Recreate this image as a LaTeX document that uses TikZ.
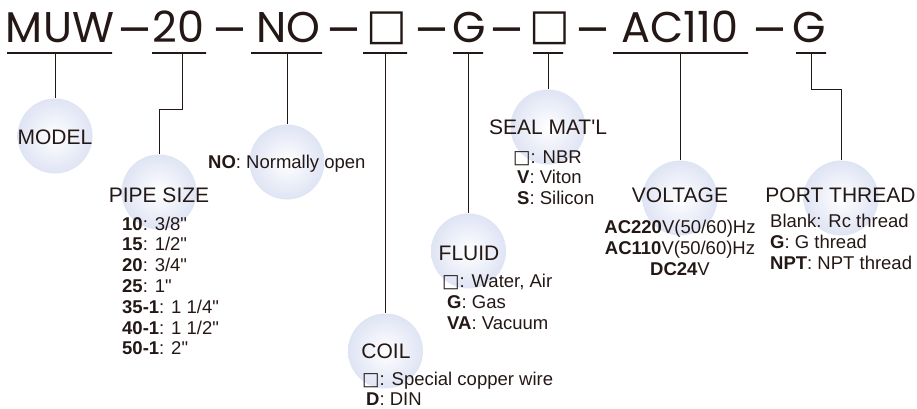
\documentclass[tikz,border=0pt]{standalone}
\usepackage{fontspec}
\setmainfont{Liberation Sans}[Ligatures=TeXOff]
\newfontfamily\titlefont{Poppins}
\newfontfamily\symfont{DejaVu Sans}
\definecolor{ink}{HTML}{231815}
\definecolor{ballc}{RGB}{223,228,244}
\newcommand{\bx}{{\symfont □}}
\tikzset{
  ttl/.style={inner sep=0pt, anchor=base, text=ink, font=\titlefont\fontsize{43}{43}\selectfont},
  tdash/.style={inner sep=0pt, anchor=base, text=ink, xscale=1.12, font=\titlefont\fontsize{46}{46}\selectfont},
  tbox/.style={inner sep=0pt, anchor=center, text=ink, font=\symfont\fontsize{43}{43}\selectfont},
  uline/.style={draw=ink, line width=1.2pt, inner sep=0pt, minimum height=0pt},
  ball/.style={circle, minimum size=75pt, inner sep=0pt, inner color=white, outer color=ballc},
  head/.style={inner sep=0pt, anchor=base, text=ink, font=\fontsize{21}{21}\selectfont},
  item/.style={inner sep=0pt, anchor=base west, text=ink, font=\fontsize{18.5}{20.8}\selectfont},
  itemc/.style={inner sep=0pt, anchor=base, text=ink, font=\fontsize{18.5}{20.8}\selectfont},
  conn/.style={draw=ink, line width=1pt},
}
\begin{document}
\begin{tikzpicture}[x=1pt,y=-1pt]
\useasboundingbox (0,0) rectangle (917,409);
% title
\node[ttl] (tMUW) at (60,43) {MUW};
\node[tdash] (d1) at (135,47) {–};
\node[ttl] (t20) at (178.5,43) {20};
\node[tdash] (d2) at (230,47) {–};
\node[ttl] (tNO) at (288.5,43) {NO};
\node[tdash] (d3) at (343.5,47) {–};
\node[tbox] (tB1) at (386.5,28) {□};
\node[tdash] (d4) at (431.5,47) {–};
\node[ttl] (tG1) at (469,43) {G};
\node[tdash] (d5) at (506.5,47) {–};
\node[tbox] (tB2) at (549.5,28) {□};
\node[tdash] (d6) at (592.5,47) {–};
\node[ttl] (tAC) at (680,43) {AC110};
\node[tdash] (d7) at (770,47) {–};
\node[ttl] (tG2) at (809,43) {G};
% underlines
\node[uline, minimum width=105pt] (u1) at (59.5,53) {};
\node[uline, minimum width=54pt] (u2) at (179,53) {};
\node[uline, minimum width=71pt] (u3) at (286.5,53) {};
\node[uline, minimum width=44pt] (u4) at (385,53) {};
\node[uline, minimum width=30pt] (u5) at (468,53) {};
\node[uline, minimum width=30pt] (u6) at (548,53) {};
\node[uline, minimum width=135pt] (u7) at (680.5,53) {};
\node[uline, minimum width=30pt] (u8) at (811,53) {};
% balls
\node[ball] (bModel) at (55,136) {};
\node[ball] (bPipe) at (159,192) {};
\node[ball] (bNO) at (287,162) {};
\node[ball] (bCoil) at (385.5,351) {};
\node[ball] (bFluid) at (468.5,251) {};
\node[ball] (bSeal) at (548,127) {};
\node[ball] (bVolt) at (680,198) {};
\node[ball] (bPort) at (841,198) {};
% connectors
\coordinate (k2) at (182,53);
\coordinate (k8) at (811,53);
\draw[conn] (bModel.north |- u1.center) -- (bModel.north);
\draw[conn] (k2) -- ++(0,57) -| (bPipe.north);
\draw[conn] (bNO.north |- u3.center) -- (bNO.north);
\draw[conn] (bCoil.north |- u4.center) -- (bCoil.north);
\draw[conn] (bFluid.north |- u5.center) -- (bFluid.north);
\draw[conn] (bSeal.north |- u6.center) -- (bSeal.north);
\draw[conn] (bVolt.north |- u7.center) -- (bVolt.north);
\draw[conn] (k8) -- ++(0,37) -| (bPort.north);
% headings
\node[head] (hModel) at (55,144) {MODEL};
\node[head] (hPipe) at (159,202) {PIPE SIZE};
\node[head] (hSeal) at (548,134) {SEAL MAT'L};
\node[head] (hFluid) at (469,260) {FLUID};
\node[head] (hCoil) at (386,358) {COIL};
\node[head] (hVolt) at (680,202) {VOLTAGE};
\node[head] (hPort) at (840.5,202) {PORT THREAD};
% items
\node[item] (iNO) at (208,168) {\textbf{NO}: Normally open};
\node[item] (p1) at (122,230) {\textbf{10}: 3/8"};
\node[item] (p2) at (122,250.8) {\textbf{15}: 1/2"};
\node[item] (p3) at (122,271.6) {\textbf{20}: 3/4"};
\node[item] (p4) at (122,292.4) {\textbf{25}: 1"};
\node[item] (p5) at (122,313.2) {\textbf{35-1}: 1 1/4"};
\node[item] (p6) at (122,334) {\textbf{40-1}: 1 1/2"};
\node[item] (p7) at (122,354.8) {\textbf{50-1}: 2"};
\node[item] (s1) at (513,163) {\bx: NBR};
\node[item] (s2) at (517,183.5) {\textbf{V}: Viton};
\node[item] (s3) at (517,204) {\textbf{S}: Silicon};
\node[item] (f1) at (442,287) {\bx: Water, Air};
\node[item] (f2) at (447,308) {\textbf{G}: Gas};
\node[item] (f3) at (447,329) {\textbf{VA}: Vacuum};
\node[item] (c1) at (362,385) {\bx: Special copper wire};
\node[item] (c2) at (366,405) {\textbf{D}: DIN};
\node[itemc] (v1) at (680,233) {\textbf{AC220}V(50/60)Hz};
\node[itemc] (v2) at (680,254) {\textbf{AC110}V(50/60)Hz};
\node[itemc] (v3) at (680,275) {\textbf{DC24}V};
\node[item] (r1) at (770,227) {Blank: Rc thread};
\node[item] (r2) at (770,248) {\textbf{G}: G thread};
\node[item] (r3) at (770,269) {\textbf{NPT}: NPT thread};
\end{tikzpicture}
\end{document}
